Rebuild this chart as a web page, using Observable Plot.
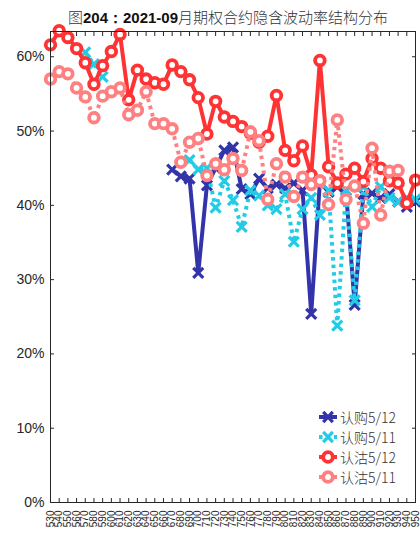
<!DOCTYPE html>
<html><head><meta charset="utf-8">
<script src="https://cdn.jsdelivr.net/npm/d3@7"></script>
<script src="https://cdn.jsdelivr.net/npm/@observablehq/plot@0.6"></script>
<style>
body{margin:0;background:#fff;}
#wrap{position:relative;width:420px;height:543px;overflow:hidden;background:#fff;}
#title{position:absolute;left:0;top:7px;width:456px;text-align:center;font:300 15px "Noto Sans CJK SC",sans-serif;color:#333;white-space:nowrap;line-height:20px;}
#title b{font-family:"Liberation Sans",Arial,sans-serif;font-weight:bold;color:#111;}
#legend{position:absolute;left:318px;top:407px;font:300 14px "Noto Sans CJK SC",sans-serif;color:#333;}
.row{display:flex;align-items:center;height:20px;white-space:nowrap;}
.row svg{margin-right:2px;}
.row span{font-family:"Noto Sans CJK SC",sans-serif;}
</style></head>
<body><div id="wrap"><div id="chart"></div><div id="title">图<b>204：2021-09</b>月期权合约隐含波动率结构分布</div><div id="legend"></div></div>
<script>
// strike prices (x categories)
const strikes = [530,540,550,560,570,580,590,600,610,620,630,640,650,660,670,680,690,700,710,720,730,740,750,760,770,780,790,800,810,820,830,840,850,860,870,880,890,900,910,920,930,940,950];
// implied volatility (%)
const call0512 = [null,null,null,null,null,null,null,null,null,null,null,null,null,null,
  44.8,43.9,43.6,30.9,42.7,45.0,47.4,47.8,42.2,41.5,43.6,42.3,42.8,42.3,43.0,42.0,25.4,43.2,41.8,42.5,42.0,26.6,41.5,41.6,41.0,41.5,40.5,39.8,40.5];
const call0511 = [null,null,null,null,60.6,59.0,57.3,null,null,null,null,null,null,null,null,null,
  46.1,44.8,45.0,39.7,43.3,40.7,37.1,42.0,41.3,40.0,39.5,41.5,35.1,39.5,41.0,38.7,42.0,23.8,42.0,27.2,42.5,39.8,42.5,41.0,40.5,41.0,40.8];
const put0512 = [61.6,63.5,62.6,61.1,59.2,56.3,58.8,60.7,63.0,54.2,58.2,57.0,56.5,56.3,58.9,58.0,56.9,54.5,49.6,54.0,51.9,51.3,50.6,49.7,48.5,49.3,54.8,47.4,46.0,48.0,44.1,59.5,45.2,43.0,44.2,45.0,43.2,46.3,45.0,43.3,43.0,40.3,43.4];
const put0511 = [57.0,58.0,57.7,55.8,54.6,51.8,54.7,55.3,55.8,52.2,52.8,55.3,51.0,51.0,50.3,45.8,48.5,49.0,44.0,45.6,44.8,46.3,44.7,49.9,48.7,40.8,45.6,43.8,41.2,43.8,42.8,43.3,40.1,51.5,40.8,42.6,37.6,47.7,38.7,44.6,44.7,null,null];
const yTicks = [0,10,20,30,40,50,60];
const names = ["认购5/12","认购5/11","认沽5/12","认沽5/11"];

const series = [
  {name:names[0], values:call0512, color:"#3333AA", dash:null, sym:"times"},
  {name:names[1], values:call0511, color:"#22CCE6", dash:"3.5,4", sym:"times"},
  {name:names[2], values:put0512, color:"#FF3333", dash:null, sym:"circle"},
  {name:names[3], values:put0511, color:"#FF8080", dash:"3.5,4", sym:"circle"}
];

const marks = [];
for (const s of series) {
  marks.push(Plot.line(strikes, {x: d => d, y: (d, i) => s.values[i], stroke: s.color, strokeWidth: 4, strokeDasharray: s.dash, strokeLinecap: "butt"}));
  if (s.sym === "times") {
    marks.push(Plot.dot(strikes, {x: d => d, y: (d, i) => s.values[i], symbol: "times", r: 4.6, stroke: s.color, strokeWidth: 3.2}));
  } else {
    marks.push(Plot.dot(strikes, {x: d => d, y: (d, i) => s.values[i], symbol: "circle", r: 4.8, stroke: s.color, fill: "white", strokeWidth: 3.8}));
  }
}

const axisColor = "#262626";
const chart = Plot.plot({
  width: 420, height: 543,
  marginLeft: 50, marginRight: 5, marginTop: 31, marginBottom: 41,
  style: {fontFamily: "'Liberation Sans', Arial, sans-serif", fontSize: "14px", color: axisColor, background: "white", overflow: "visible"},
  x: {type: "linear", domain: [530, 950]},
  y: {domain: [0, 63.4]},
  marks: [
    Plot.axisY({anchor: "left", ticks: yTicks, tickSize: 0, tickPadding: 6, tickFormat: d => d + "%", fontSize: 14, label: null}),
    Plot.axisY({anchor: "left", ticks: yTicks, tickSize: -4, tickFormat: () => "", label: null}),
    Plot.axisY({anchor: "right", ticks: yTicks, tickSize: -4, tickFormat: () => "", label: null}),
    Plot.axisX({anchor: "bottom", ticks: strikes, tickSize: 0, tickPadding: 8, tickRotate: -90, tickFormat: d => String(d), fontSize: 10, label: null}),
    Plot.axisX({anchor: "bottom", ticks: strikes, tickSize: -4, tickFormat: () => "", label: null}),
    Plot.axisX({anchor: "top", ticks: strikes, tickSize: -4, tickFormat: () => "", label: null}),
    ...marks,
    Plot.frame({stroke: axisColor, strokeWidth: 1})
  ]
});
document.getElementById("chart").appendChild(chart);

// legend
const leg = document.getElementById("legend");
for (const s of series) {
  const row = document.createElement("div");
  row.className = "row";
  const ns = "http://www.w3.org/2000/svg";
  const svg = document.createElementNS(ns, "svg");
  svg.setAttribute("width", 20); svg.setAttribute("height", 16);
  const ln = document.createElementNS(ns, "line");
  ln.setAttribute("x1", 1); ln.setAttribute("x2", 19); ln.setAttribute("y1", 8); ln.setAttribute("y2", 8);
  ln.setAttribute("stroke", s.color); ln.setAttribute("stroke-width", 4);
  if (s.dash) ln.setAttribute("stroke-dasharray", s.dash);
  svg.appendChild(ln);
  if (s.sym === "times") {
    const p = document.createElementNS(ns, "path");
    p.setAttribute("d", "M5.2,2.8L14.8,13.2M14.8,2.8L5.2,13.2");
    p.setAttribute("stroke", s.color); p.setAttribute("stroke-width", 3.2);
    svg.appendChild(p);
  } else {
    const c = document.createElementNS(ns, "circle");
    c.setAttribute("cx", 10); c.setAttribute("cy", 8); c.setAttribute("r", 4.8);
    c.setAttribute("stroke", s.color); c.setAttribute("stroke-width", 3.8); c.setAttribute("fill", "white");
    svg.appendChild(c);
  }
  row.appendChild(svg);
  const t = document.createElement("span");
  t.textContent = s.name;
  row.appendChild(t);
  leg.appendChild(row);
}
</script>
</body></html>
